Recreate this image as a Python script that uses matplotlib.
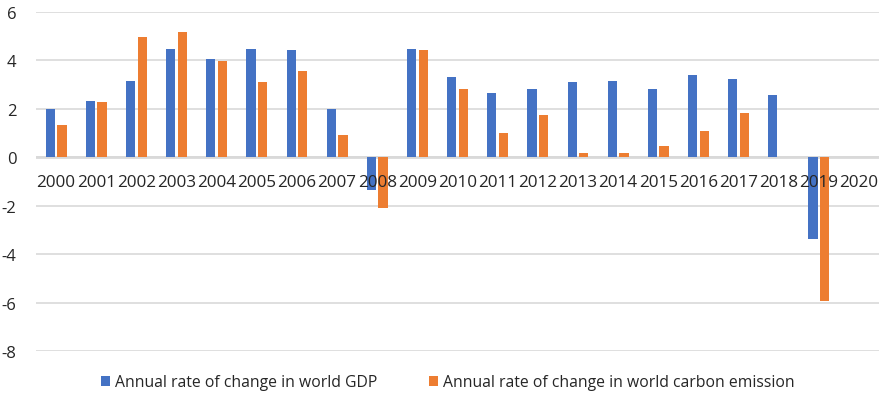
import numpy as np
import matplotlib
matplotlib.use("Agg")
import matplotlib.pyplot as plt

# Annual rates of change (%), world GDP vs world carbon emission
years = [str(y) for y in range(2000, 2021)]
gdp = [2.0, 2.31, 3.15, 4.48, 4.05, 4.49, 4.43, 1.98, -1.35, 4.49, 3.33,
       2.66, 2.84, 3.10, 3.17, 2.81, 3.39, 3.25, 2.59, -3.36, np.nan]
carbon = [1.35, 2.29, 4.96, 5.19, 3.99, 3.10, 3.57, 0.90, -2.10, 4.42, 2.81,
          1.00, 1.74, 0.18, 0.17, 0.45, 1.07, 1.83, 0.02, -5.95, np.nan]
yticks = [-8, -6, -4, -2, 0, 2, 4, 6]

BLUE = "#4472C4"
ORANGE = "#ED7D31"
GRID = "#d9d9d9"
TEXT = "#262626"

plt.rcParams["font.family"] = ["Open Sans", "DejaVu Sans"]

fig = plt.figure(figsize=(8.83, 4.02), dpi=100)
ax = fig.add_axes([0.0408, 0.1244, 0.9547, 0.8433])

x = np.arange(len(years))
bw = 0.23
off = 0.145
ax.bar(x - off, gdp, bw, color=BLUE, zorder=2,
       label="Annual rate of change in world GDP")
ax.bar(x + off, carbon, bw, color=ORANGE, zorder=2,
       label="Annual rate of change in world carbon emission")

ax.set_xlim(-0.5, len(years) - 0.5)
ax.set_ylim(-8, 6)
ax.set_yticks(yticks)
ax.set_yticklabels([str(v) for v in yticks])
ax.set_xticks(x)
ax.set_xticklabels(years)

ax.set_axisbelow(True)
ax.yaxis.grid(True, color=GRID, linewidth=1.2)
ax.axhline(0, color=GRID, linewidth=2.0, zorder=1)

for s in ["top", "right", "left"]:
    ax.spines[s].set_visible(False)
ax.spines["bottom"].set_position(("data", 0))
ax.spines["bottom"].set_visible(False)

ax.tick_params(axis="x", length=0, pad=12, labelsize=12.3, labelcolor=TEXT)
ax.tick_params(axis="y", length=0, pad=14, labelsize=12, labelcolor=TEXT)
# year labels sit on top of the negative bars
ax.xaxis.set_zorder(3)

fig.legend(loc="lower center", bbox_to_anchor=(0.507, -0.008), ncol=2,
           frameon=False, fontsize=11.3, handlelength=0.6, handleheight=0.6,
           handletextpad=0.3, columnspacing=3.3, labelcolor=TEXT)

fig.savefig("out.png", dpi=100)
